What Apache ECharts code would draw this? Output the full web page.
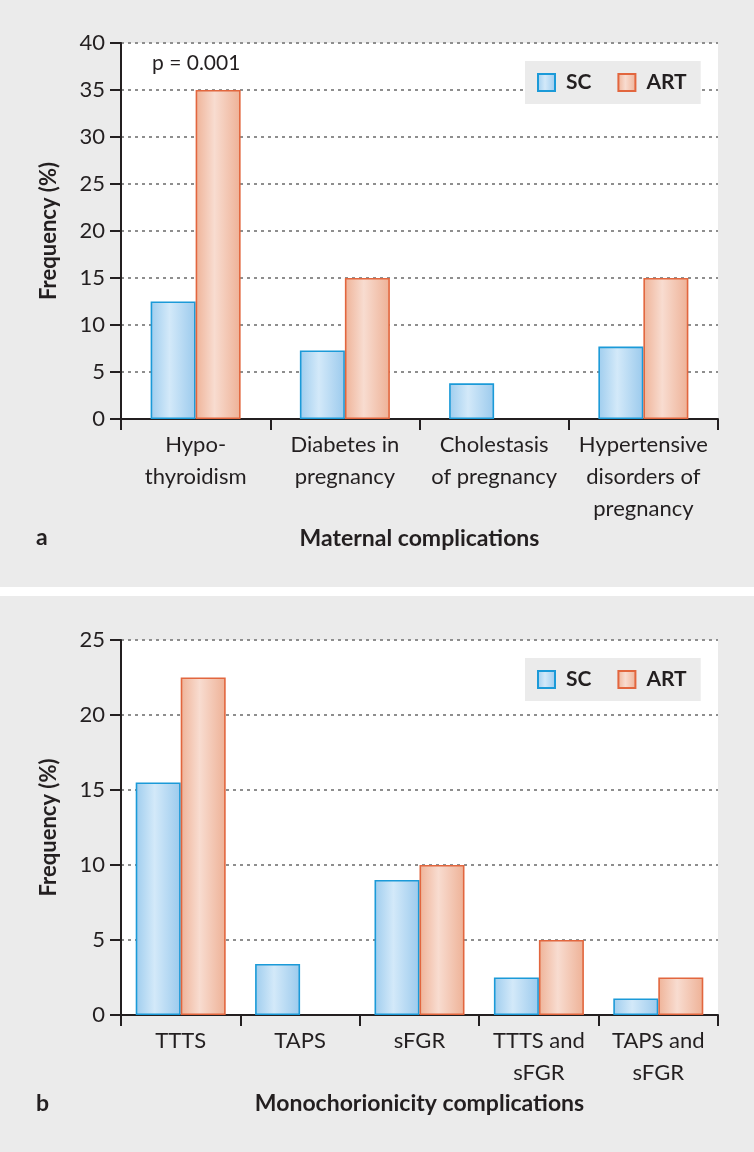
<!DOCTYPE html>
<html>
<head>
<meta charset="utf-8">
<script src="https://cdn.jsdelivr.net/npm/echarts@6/dist/echarts.min.js"></script>
<style>
html,body{margin:0;padding:0;background:#fff;}
#c{width:754px;height:1152px;}
</style>
</head>
<body>
<div id="c"></div>
<script>
// ---- data ----
const categoriesA = ['Hypo-\nthyroidism', 'Diabetes in\npregnancy', 'Cholestasis\nof pregnancy', 'Hypertensive\ndisorders of\npregnancy'];
const scA = [12.5, 7.3, 3.8, 7.7];
const artA = [35, 15, 0, 15];
const yMaxA = 40;

const categoriesB = ['TTTS', 'TAPS', 'sFGR', 'TTTS and\nsFGR', 'TAPS and\nsFGR'];
const scB = [15.5, 3.4, 9.0, 2.5, 1.1];
const artB = [22.5, 0, 10, 5, 2.5];
const yMaxB = 25;

const yInterval = 5;
const seriesNames = ['SC', 'ART'];
const pValueText = 'p = 0.001';

// ---- styles ----
const FONT = 'Lato';
const TXT = '#231f20';
const PANEL = '#ebebeb';
const scFill = new echarts.graphic.LinearGradient(0, 0, 1, 0, [
  {offset: 0, color: '#9fcdee'}, {offset: 0.42, color: '#d3e9f9'}, {offset: 1, color: '#9bcaed'}]);
const artFill = new echarts.graphic.LinearGradient(0, 0, 1, 0, [
  {offset: 0, color: '#efb398'}, {offset: 0.42, color: '#f8dcd0'}, {offset: 1, color: '#eeb196'}]);
const scStyle = {color: scFill, borderColor: '#1b9ad8', borderWidth: 1.6};
const artStyle = {color: artFill, borderColor: '#e2663e', borderWidth: 1.6};

function xAxis(idx, cats, name, gap) {
  return {
    type: 'category', gridIndex: idx, data: cats,
    axisLine: {lineStyle: {color: TXT, width: 2}},
    axisTick: {show: true, length: 11, lineStyle: {color: TXT, width: 2}, alignWithLabel: false},
    axisLabel: {interval: 0, color: TXT, fontFamily: FONT, fontSize: 22, lineHeight: 32, margin: 10},
    name: name, nameLocation: 'middle', nameGap: gap,
    nameTextStyle: {color: TXT, fontFamily: FONT, fontSize: 23, fontWeight: 'bold'}
  };
}
function yAxis(idx, max) {
  return {
    type: 'value', gridIndex: idx, min: 0, max: max, interval: yInterval,
    axisLine: {show: true, lineStyle: {color: TXT, width: 2}},
    axisTick: {show: true, length: 11, lineStyle: {color: TXT, width: 2}},
    axisLabel: {color: TXT, fontFamily: FONT, fontSize: 22, margin: 16},
    splitLine: {show: true, lineStyle: {color: '#8e8e8e', width: 2, type: [3, 4]}},
    name: 'Frequency (%)', nameLocation: 'middle', nameGap: 61,
    nameTextStyle: {color: TXT, fontFamily: FONT, fontSize: 22, fontWeight: 'bold'}
  };
}
function legend(top) {
  return {
    data: seriesNames, left: 525, top: top, orient: 'horizontal',
    backgroundColor: PANEL, padding: [11, 14, 11, 12],
    itemWidth: 17, itemHeight: 17, itemGap: 26, icon: 'rect',
    selectedMode: false,
    textStyle: {color: TXT, fontFamily: FONT, fontSize: 21, fontWeight: 'bold', padding: [0, 0, 0, 6]}
  };
}
// zero-height bars carry no outline (nothing is drawn in the reference)
function withZeroStyle(data) {
  return data.map(v => v === 0 ? {value: v, itemStyle: {borderWidth: 0}} : v);
}
function bar(name, data, idx, style) {
  return {
    type: 'bar', name: name, data: withZeroStyle(data), xAxisIndex: idx, yAxisIndex: idx,
    barWidth: 45, barGap: '0%', itemStyle: style, animation: false
  };
}

const chart = echarts.init(document.getElementById('c'), null, {renderer: 'canvas'});
chart.setOption({
  backgroundColor: '#ffffff',
  animation: false,
  textStyle: {fontFamily: FONT},
  graphic: [
    {type: 'rect', z: -10, silent: true, shape: {x: 0, y: 0, width: 754, height: 587}, style: {fill: PANEL}},
    {type: 'rect', z: -10, silent: true, shape: {x: 0, y: 596, width: 754, height: 556}, style: {fill: PANEL}},
    {type: 'text', left: 36, top: 526, style: {text: 'a', font: 'bold 23px Lato', fill: TXT}},
    {type: 'text', left: 36, top: 1092, style: {text: 'b', font: 'bold 23px Lato', fill: TXT}},
    {type: 'text', left: 152, top: 53, style: {text: pValueText, font: '21px Lato', fill: TXT}}
  ],
  grid: [
    {left: 121, right: 36, top: 43, bottom: 733, show: true, backgroundColor: '#ffffff', borderWidth: 0},
    {left: 121, right: 36, top: 640, bottom: 137, show: true, backgroundColor: '#ffffff', borderWidth: 0}
  ],
  legend: [legend(61), legend(658)],
  xAxis: [xAxis(0, categoriesA, 'Maternal complications', 108), xAxis(1, categoriesB, 'Monochorionicity complications', 77)],
  yAxis: [yAxis(0, yMaxA), yAxis(1, yMaxB)],
  series: [
    bar(seriesNames[0], scA, 0, scStyle), bar(seriesNames[1], artA, 0, artStyle),
    bar(seriesNames[0], scB, 1, scStyle), bar(seriesNames[1], artB, 1, artStyle)
  ]
});
</script>
</body>
</html>
